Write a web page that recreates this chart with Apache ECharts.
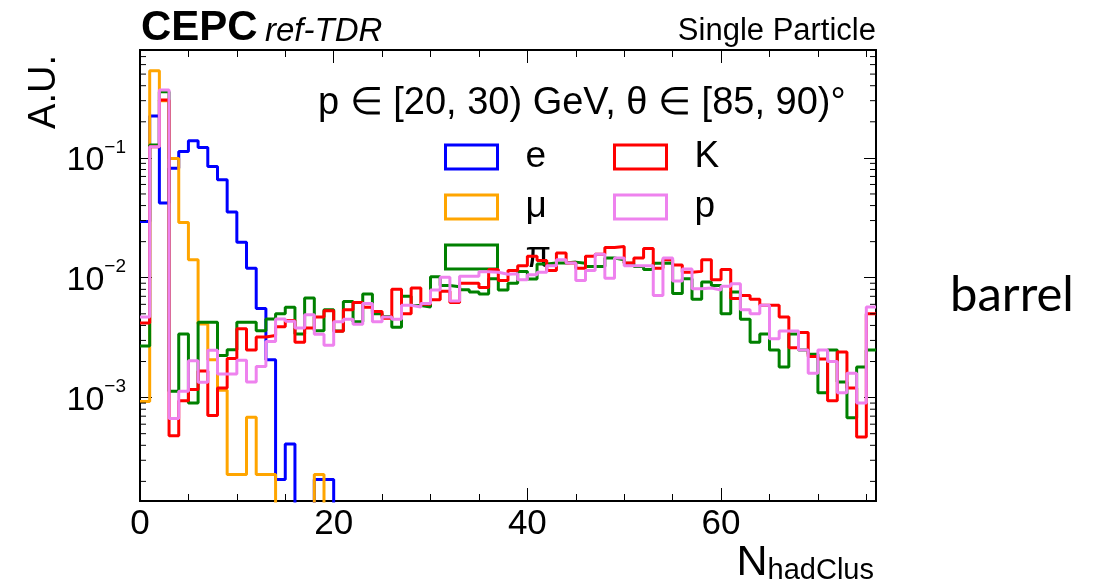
<!DOCTYPE html>
<html><head><meta charset="utf-8">
<script src="https://cdn.jsdelivr.net/npm/echarts@6/dist/echarts.min.js"></script>
<style>html,body{margin:0;padding:0;background:#fff}#c{width:1107px;height:585px}</style>
</head><body><div id="c"></div>
<script>
// ---- data (bin contents, bins of width 1 starting at N = 0) ----
const binEdgesMax = 76;
const electron = [0.0295, 0.224, 0.042, 0.082, 0.113, 0.139, 0.122, 0.0847, 0.0656, 0.0353,
  0.0198, 0.012, 0.00555, 0.00207, 0.000207, 0.000411, 0, 0, 0.000207, 0.000207,
  0, 0, 0, 0, 0, 0, 0, 0, 0, 0, 0, 0, 0, 0, 0, 0, 0, 0, 0, 0,
  0, 0, 0, 0, 0, 0, 0, 0, 0, 0, 0, 0, 0, 0, 0, 0, 0, 0, 0, 0,
  0, 0, 0, 0, 0, 0, 0, 0, 0, 0, 0, 0, 0, 0, 0, 0];
const muon = [0.00093, 0.534, 0.3, 0.099, 0.0289, 0.0141, 0.00411, 0.00207, 0.00115, 0.000228,
  0.000228, 0.000686, 0.000228, 0.000228, 0, 0, 0, 0, 0.000228, 0,
  0, 0, 0, 0, 0, 0, 0, 0, 0, 0, 0, 0, 0, 0, 0, 0, 0, 0, 0, 0,
  0, 0, 0, 0, 0, 0, 0, 0, 0, 0, 0, 0, 0, 0, 0, 0, 0, 0, 0, 0,
  0, 0, 0, 0, 0, 0, 0, 0, 0, 0, 0, 0, 0, 0, 0, 0];
const pion = [0.0027, 0.128, 0.357, 0.00113, 0.0034, 0.0009, 0.00425, 0.00425, 0.00225, 0.00251,
  0.00425, 0.00425, 0.00362, 0.00453, 0.00501, 0.00566, 0.0034, 0.00677, 0.00362, 0.00541,
  0.0036, 0.00635, 0.0043, 0.00733, 0.005, 0.00476, 0.00387, 0.007, 0.00587, 0.0057,
  0.0102, 0.0086, 0.0084, 0.00794, 0.0076, 0.0073, 0.0098, 0.0079, 0.009, 0.0113,
  0.00976, 0.013, 0.01325, 0.01325, 0.0135, 0.0132, 0.0124, 0.0124, 0.0146, 0.0141,
  0.0132, 0.0124, 0.0117, 0.0132, 0.0133, 0.0074, 0.0098, 0.0066, 0.0092, 0.0086,
  0.005, 0.0076, 0.0045, 0.0029, 0.0034, 0.0025, 0.0018, 0.0034, 0.0025, 0.0023,
  0.0011, 0.0025, 0.00135, 0.00068, 0.0018, 0.0025];
const kaon = [0.0042, 0.124, 0.304, 0.00048, 0.00094, 0.00117, 0.00167, 0.00071, 0.0012, 0.00212,
  0.00376, 0.0025, 0.0032, 0.0033, 0.0039, 0.0044, 0.0029, 0.0038, 0.0047, 0.0053,
  0.00357, 0.0054, 0.0062, 0.00566, 0.00524, 0.0046, 0.008, 0.005, 0.0082, 0.006,
  0.00656, 0.0077, 0.0062, 0.009, 0.009, 0.0083, 0.0117, 0.0095, 0.0115, 0.0126,
  0.0151, 0.0139, 0.0115, 0.0161, 0.0133, 0.012, 0.0151, 0.0157, 0.0179, 0.0182,
  0.0133, 0.0146, 0.0175, 0.012, 0.0141, 0.0128, 0.0111, 0.0113, 0.0141, 0.0096,
  0.0117, 0.0067, 0.0071, 0.0066, 0.0059, 0.0059, 0.0047, 0.0026, 0.0035, 0.0022,
  0.0021, 0.00094, 0.0024, 0.0012, 0.00047, 0.005];
const proton = [0.0047, 0.124, 0.369, 0.00067, 0.00113, 0.00203, 0.00134, 0.00248, 0.00157, 0.00157,
  0.00205, 0.00135, 0.00182, 0.00294, 0.00453, 0.00433, 0.00381, 0.00492, 0.00338, 0.00273,
  0.0043, 0.0045, 0.0041, 0.0061, 0.0043, 0.0047, 0.0045, 0.0059, 0.0057, 0.0061,
  0.0079, 0.0101, 0.0064, 0.0103, 0.0103, 0.0112, 0.0111, 0.0107, 0.0108, 0.0096,
  0.0106, 0.0111, 0.0126, 0.0141, 0.0133, 0.0095, 0.0115, 0.0157, 0.0099, 0.0146,
  0.0126, 0.0126, 0.0126, 0.0071, 0.0146, 0.0094, 0.0118, 0.0081, 0.0082, 0.0079,
  0.0085, 0.0089, 0.0054, 0.005, 0.0059, 0.0031, 0.0036, 0.0036, 0.0025, 0.0016,
  0.0025, 0.002, 0.0011, 0.0016, 0.0009, 0.0057];
const seriesNames = ['e', 'μ', 'π', 'K', 'p'];
const xTickLabels = ['0', '20', '40', '60'];
const yTickExponents = ['−3', '−2', '−1'];
const yMin = 1.372e-4, yMax = 0.7943;

// ---- styling ----
const FONT = 'Liberation Sans';
const colors = ['#0000ff', '#ffa500', '#008000', '#ff0000', '#ee82ee'];
const allValues = [electron, muon, pion, kaon, proton];

function histData(vals) {
  const floor = 1e-9; // empty bins fall below the visible range
  const pts = vals.map((v, i) => [i, v > 0 ? v : floor]);
  const last = vals[vals.length - 1];
  pts.push([vals.length, last > 0 ? last : floor]);
  return pts;
}

// positions of ROOT-style log minor ticks (2..9 x 10^n) inside the range
const yMinorTicks = [];
for (let e = -4; e <= 0; e++) {
  for (let k = 2; k <= 9; k++) {
    const v = k * Math.pow(10, e);
    if (v > yMin && v < yMax) yMinorTicks.push([0, v]);
  }
}

const series = seriesNames.map((name, i) => ({
  name: name,
  type: 'line',
  step: 'end',
  data: histData(allValues[i]),
  symbol: 'none',
  clip: true,
  lineStyle: { color: colors[i], width: 3 },
  itemStyle: { color: colors[i] },
  z: 2 + i,
  animation: false
}));

series.push({
  type: 'custom',
  name: 'minorTicks',
  silent: true,
  xAxisIndex: 0,
  yAxisIndex: 0,
  data: yMinorTicks,
  z: 10,
  animation: false,
  renderItem: function (params, api) {
    const v = api.value(1);
    const l = api.coord([0, v]);
    const r = api.coord([binEdgesMax, v]);
    return {
      type: 'group',
      children: [
        { type: 'line', shape: { x1: l[0], y1: l[1], x2: l[0] + 6, y2: l[1] }, style: { stroke: '#000', lineWidth: 1 } },
        { type: 'line', shape: { x1: r[0] - 6, y1: r[1], x2: r[0], y2: r[1] }, style: { stroke: '#000', lineWidth: 1 } }
      ]
    };
  }
});

function legendItems(idx) {
  return idx.map(i => ({
    name: seriesNames[i],
    icon: 'rect',
    itemStyle: { color: 'rgba(0,0,0,0)', borderColor: colors[i], borderWidth: 3 }
  }));
}
const legendBase = {
  orient: 'vertical', top: 137, itemWidth: 52, itemHeight: 24, itemGap: 10,
  padding: 0, selectedMode: false,
  textStyle: { fontFamily: FONT, fontSize: 37, color: '#000', lineHeight: 40, padding: [0, 0, 0, 23] }
};

const axisLineStyle = { show: true, onZero: false, lineStyle: { color: '#000', width: 2 } };
function xAxisDef(pos, interval, tickLen, withLabels) {
  return {
    type: 'value', min: 0, max: binEdgesMax, interval: interval, position: pos,
    axisLine: axisLineStyle,
    axisTick: { show: true, inside: true, length: tickLen, lineStyle: { color: '#000', width: 1 } },
    axisLabel: withLabels ? {
      show: true, fontFamily: FONT, fontSize: 35, color: '#000', margin: 6,
      formatter: v => (xTickLabels[v / 20] !== undefined && v % 20 === 0) ? xTickLabels[v / 20] : ''
    } : { show: false },
    splitLine: { show: false }
  };
}
const xAxes = [xAxisDef('bottom', 20, 13, true), xAxisDef('bottom', 5, 7, false),
  xAxisDef('top', 20, 13, false), xAxisDef('top', 5, 7, false)];
xAxes[0].name = '{n|N}{s|hadClus}';
xAxes[0].nameLocation = 'end';
xAxes[0].nameGap = 0;
xAxes[0].nameTextStyle = {
  align: 'right', verticalAlign: 'top', padding: [40, 2, 0, 0],
  rich: {
    n: { fontFamily: FONT, fontSize: 43, lineHeight: 44, color: '#000', verticalAlign: 'bottom' },
    s: { fontFamily: FONT, fontSize: 29, lineHeight: 30, color: '#000', verticalAlign: 'bottom' }
  }
};

function yLabel(v) {
  const e = Math.log10(v);
  const r = Math.round(e);
  if (Math.abs(e - r) > 1e-6) return '';
  const idx = r + 3;
  if (idx < 0 || idx >= yTickExponents.length) return '';
  return '{b|10}{s|' + yTickExponents[idx] + '}';
}
const yAxes = [
  {
    type: 'log', logBase: 10, min: yMin, max: yMax, position: 'left',
    axisLine: axisLineStyle,
    axisTick: { show: true, inside: true, length: 12, lineStyle: { color: '#000', width: 1 } },
    axisLabel: {
      show: true, margin: 14, formatter: yLabel, showMinLabel: false, showMaxLabel: false,
      rich: {
        b: { fontFamily: FONT, fontSize: 34, color: '#000', lineHeight: 40, verticalAlign: 'bottom' },
        s: { fontFamily: FONT, fontSize: 19, color: '#000', lineHeight: 20, verticalAlign: 'top' }
      }
    },
    splitLine: { show: false },
    name: 'A.U.', nameLocation: 'end', nameGap: -5, nameRotate: 90,
    nameTextStyle: { fontFamily: FONT, fontSize: 38, lineHeight: 38, color: '#000', align: 'right', verticalAlign: 'bottom', padding: [0, 0, 76, 0] }
  },
  {
    type: 'log', logBase: 10, min: yMin, max: yMax, position: 'right',
    axisLine: axisLineStyle,
    axisTick: { show: true, inside: true, length: 12, lineStyle: { color: '#000', width: 1 } },
    axisLabel: { show: false }, splitLine: { show: false }
  }
];

const option = {
  animation: false,
  backgroundColor: '#fff',
  textStyle: { fontFamily: FONT },
  grid: { left: 140, top: 50, width: 736, height: 451.5, containLabel: false },
  title: [
    { text: 'CEPC', left: 141, top: 7, padding: 0, textStyle: { fontFamily: FONT, fontWeight: 'bold', fontSize: 42, color: '#000' } },
    { text: 'ref-TDR', left: 265, top: 15, padding: 0, textStyle: { fontFamily: FONT, fontStyle: 'italic', fontWeight: 'normal', fontSize: 33, color: '#000' } },
    { text: 'Single Particle', right: 231, top: 16, padding: 0, textStyle: { fontFamily: FONT, fontWeight: 'normal', fontSize: 31, color: '#000' } },
    { text: 'p ∈ [20, 30) GeV, θ ∈ [85, 90)°', left: 318, top: 85, padding: 0, textStyle: { fontFamily: FONT, fontWeight: 'normal', fontSize: 38, color: '#000' } },
    { text: 'barrel', left: 950, top: 271, padding: 0, textStyle: { fontFamily: 'Lato', fontWeight: 'normal', fontSize: 49, color: '#000' } }
  ],
  legend: [
    Object.assign({}, legendBase, { left: 444, data: legendItems([0, 1, 2]) }),
    Object.assign({}, legendBase, { left: 613, data: legendItems([3, 4]) })
  ],
  xAxis: xAxes,
  yAxis: yAxes,
  series: series
};

const chart = echarts.init(document.getElementById('c'), null, { renderer: 'canvas' });
chart.setOption(option);
</script>
</body></html>
